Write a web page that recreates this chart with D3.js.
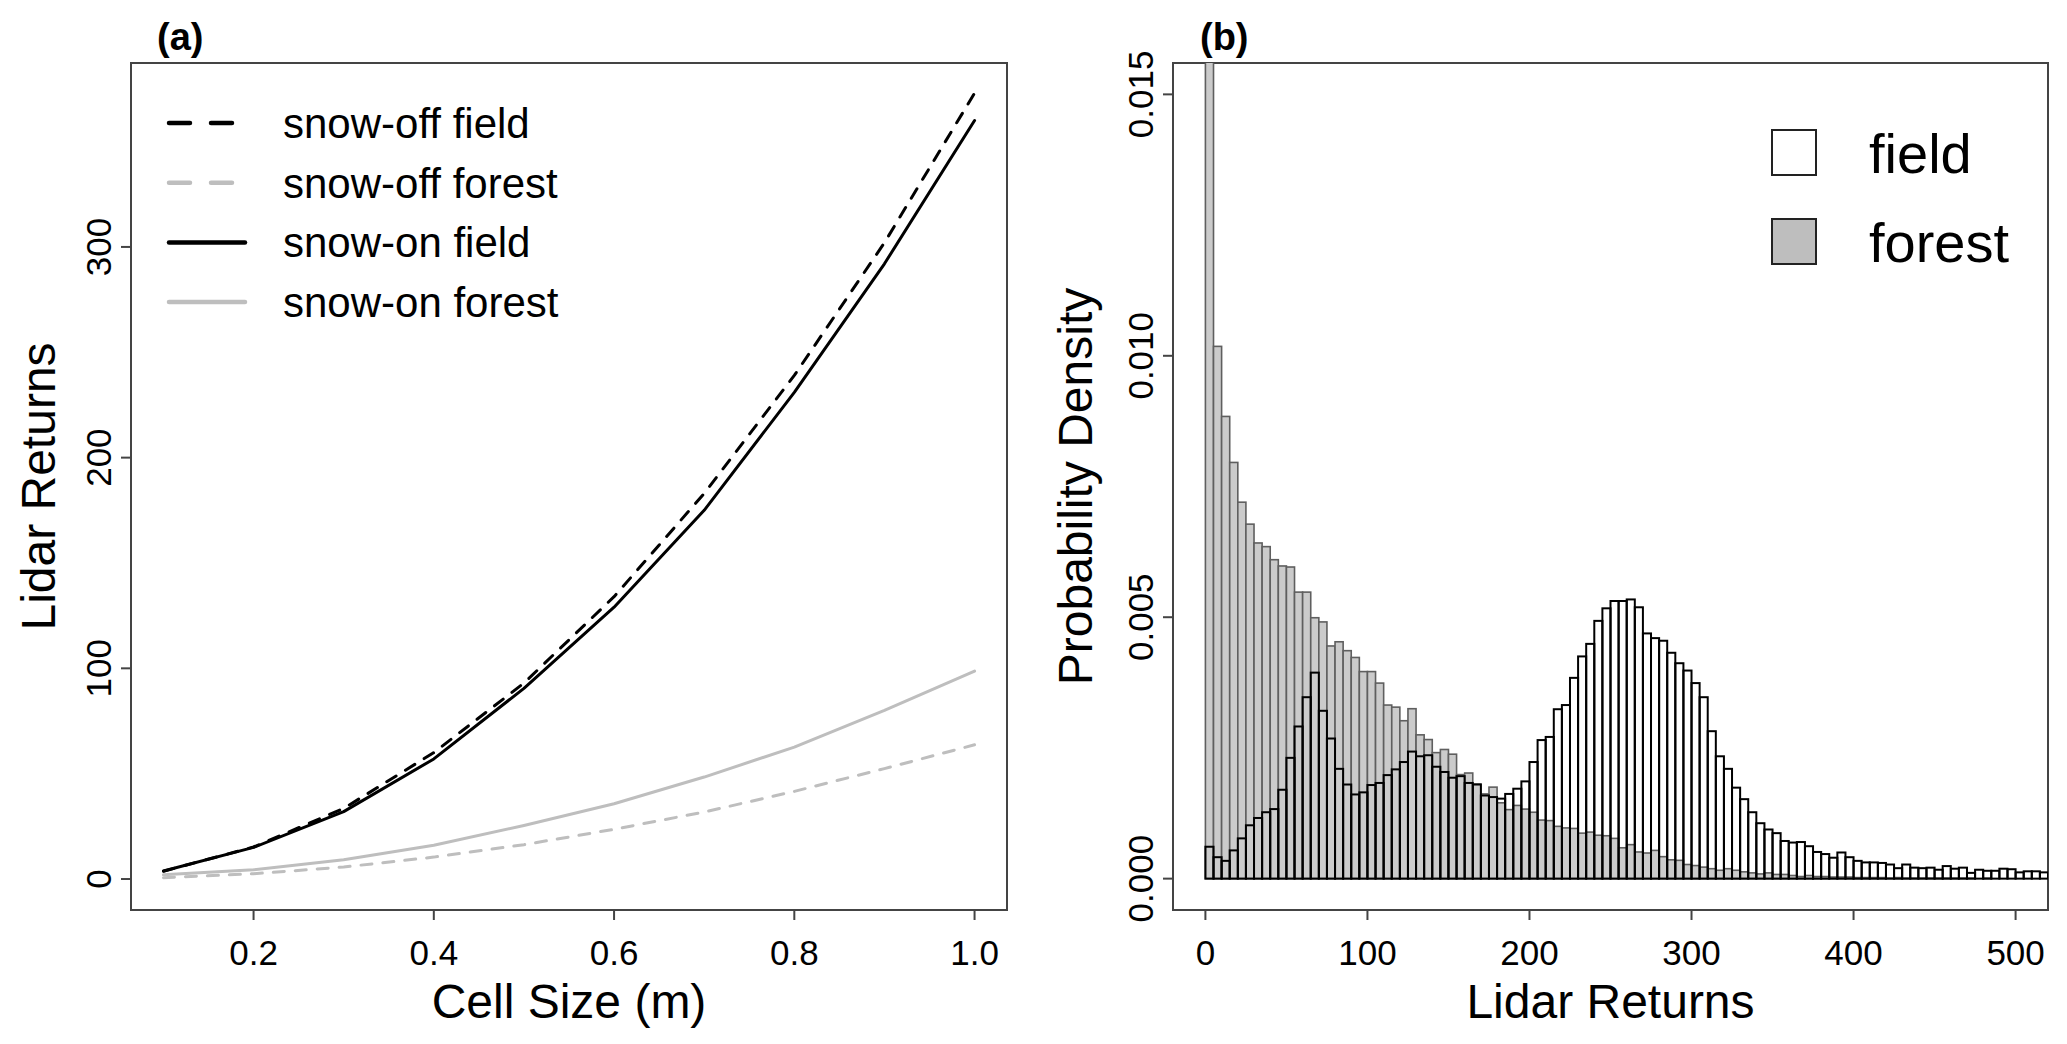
<!DOCTYPE html>
<html>
<head>
<meta charset="utf-8">
<script src="https://cdn.jsdelivr.net/npm/d3@7"></script>
<style>
  body { margin: 0; background: #fff; }
  svg { display: block; font-family: "Liberation Sans", Arial, Helvetica, sans-serif; }
</style>
</head>
<body>
<svg id="chart" width="2067" height="1044"></svg>
<script>
// panel (a): lidar returns by cell size
const cellSize = [0.1, 0.2, 0.3, 0.4, 0.5, 0.6, 0.7, 0.8, 0.9, 1.0];
const snowOffField = [3.7, 15.2, 33.5, 60, 93, 134, 183, 239, 302, 373];
const snowOffForest = [0.6, 2.5, 5.7, 10.4, 16.3, 23.6, 31.8, 41.6, 52.4, 63.7];
const snowOnField = [3.8, 15, 32, 57, 90.5, 129, 175, 231, 292, 360];
const snowOnForest = [2.0, 4.4, 9.2, 16, 25.4, 35.7, 48.4, 62.6, 80, 98.7];

// panel (b): histogram, bin starts (width 5) and densities
const binStarts = [
  0, 5, 10, 15, 20, 25, 30, 35, 40, 45, 50, 55, 60, 65, 70, 75, 80, 85, 90, 95,
  100, 105, 110, 115, 120, 125, 130, 135, 140, 145, 150, 155, 160, 165, 170, 175, 180, 185, 190, 195,
  200, 205, 210, 215, 220, 225, 230, 235, 240, 245, 250, 255, 260, 265, 270, 275, 280, 285, 290, 295,
  300, 305, 310, 315, 320, 325, 330, 335, 340, 345, 350, 355, 360, 365, 370, 375, 380, 385, 390, 395,
  400, 405, 410, 415, 420, 425, 430, 435, 440, 445, 450, 455, 460, 465, 470, 475, 480, 485, 490, 495,
  500, 505, 510, 515
];
const binWidth = 5;
const forestDensity = [
  0.0185, 0.01018, 0.00884, 0.00796, 0.00720, 0.00678, 0.00642, 0.00635, 0.00610, 0.00598,
  0.00596, 0.00548, 0.00548, 0.00499, 0.00491, 0.00445, 0.00453, 0.00436, 0.00423, 0.00396,
  0.00396, 0.00374, 0.00332, 0.00328, 0.00302, 0.00325, 0.00275, 0.00266, 0.00241, 0.00247,
  0.00238, 0.00199, 0.00202, 0.00181, 0.00162, 0.00175, 0.00145, 0.00132, 0.00140, 0.00133,
  0.00127, 0.00112, 0.00111, 0.00100, 0.00097, 0.00096, 0.00087, 0.00089, 0.00083, 0.00082,
  0.00077, 0.00059, 0.00065, 0.00051, 0.00049, 0.00054, 0.00042, 0.00036, 0.00035, 0.00027,
  0.00025, 0.00022, 0.00019, 0.00016, 0.00019, 0.00016, 0.00013, 0.00011, 0.00009, 0.00011,
  0.00008, 0.00008, 0.00006, 0.00004, 0.00006, 0.00004, 0.00004, 0.00003, 0.00003, 0.00003,
  0.00002, 0.00002, 0.00002, 0.00002, 0.00001, 0.00002, 0.00001, 0.00001, 0.00001, 0.00001,
  0.00001, 0.00001, 0.00001, 0.00001, 0.00001, 0, 0.00001, 0, 0, 0,
  0, 0, 0, 0
];
const fieldDensity = [
  0.00061, 0.00041, 0.00034, 0.00054, 0.00077, 0.00102, 0.00116, 0.00127, 0.00133, 0.00170,
  0.00231, 0.00291, 0.00347, 0.00394, 0.00321, 0.00268, 0.00210, 0.00180, 0.00161, 0.00165,
  0.00179, 0.00183, 0.00198, 0.00209, 0.00223, 0.00243, 0.00234, 0.00236, 0.00214, 0.00204,
  0.00193, 0.00196, 0.00183, 0.00180, 0.00159, 0.00156, 0.00153, 0.00162, 0.00172, 0.00186,
  0.00223, 0.00265, 0.00271, 0.00324, 0.00332, 0.00384, 0.00425, 0.00449, 0.00493, 0.00517,
  0.00531, 0.00531, 0.00534, 0.00519, 0.00469, 0.00460, 0.00455, 0.00432, 0.00412, 0.00398,
  0.00374, 0.00347, 0.00282, 0.00234, 0.00210, 0.00174, 0.00152, 0.00127, 0.00106, 0.00094,
  0.00087, 0.00072, 0.00069, 0.00070, 0.00062, 0.00051, 0.00047, 0.00040, 0.00050, 0.00041,
  0.00034, 0.00031, 0.00031, 0.00030, 0.00027, 0.00020, 0.00027, 0.00021, 0.00020, 0.00021,
  0.00017, 0.00024, 0.00019, 0.00021, 0.00011, 0.00017, 0.00015, 0.00015, 0.00019, 0.00018,
  0.00012, 0.00014, 0.00014, 0.00012
];

const cellTicks = [0.2, 0.4, 0.6, 0.8, 1.0];
const returnTicks = [0, 100, 200, 300];
const histXTicks = [0, 100, 200, 300, 400, 500];
const densityTicks = [0, 0.005, 0.010, 0.015];

const lineSeries = [
  { name: 'snow-off forest', values: snowOffForest, color: '#bebebe', dashed: true },
  { name: 'snow-on forest', values: snowOnForest, color: '#bebebe', dashed: false },
  { name: 'snow-off field', values: snowOffField, color: '#000', dashed: true },
  { name: 'snow-on field', values: snowOnField, color: '#000', dashed: false }
];
const legendOrder = ['snow-off field', 'snow-off forest', 'snow-on field', 'snow-on forest'];

const svg = d3.select('#chart');
const plotTop = 63, plotBottom = 910;
const tickFont = 35, titleFont = 48;

function frame(x0, x1, xScale, yScale, xTicks, yTicks, yFmt, xFmt) {
  const g = svg.append('g');
  g.append('rect')
    .attr('x', x0).attr('y', plotTop)
    .attr('width', x1 - x0).attr('height', plotBottom - plotTop)
    .attr('fill', 'none').attr('stroke', '#444').attr('stroke-width', 2);

  xTicks.forEach(t => {
    const x = xScale(t);
    g.append('line').attr('x1', x).attr('x2', x).attr('y1', plotBottom).attr('y2', plotBottom + 10)
      .attr('stroke', '#444').attr('stroke-width', 2);
    g.append('text').attr('x', x).attr('y', 965)
      .attr('text-anchor', 'middle').attr('font-size', tickFont).text(xFmt(t));
  });
  yTicks.forEach(t => {
    const y = yScale(t);
    g.append('line').attr('x1', x0 - 10).attr('x2', x0).attr('y1', y).attr('y2', y)
      .attr('stroke', '#444').attr('stroke-width', 2);
    g.append('text')
      .attr('transform', `translate(${x0 - 20},${y}) rotate(-90)`)
      .attr('text-anchor', 'middle').attr('font-size', tickFont).text(yFmt(t));
  });
  return g;
}

// ---------- panel (a) ----------
const xA = d3.scaleLinear().domain([0.064, 1.036]).range([131, 1007]);
const yA = d3.scaleLinear().domain([-14.7, 387.3]).range([plotBottom, plotTop]);

frame(131, 1007, xA, yA, cellTicks, returnTicks, d3.format('d'), d3.format('.1f'));

const line = d3.line().x((d, i) => xA(cellSize[i])).y(d => yA(d));

lineSeries.forEach(s => {
  svg.append('path')
    .attr('d', line(s.values))
    .attr('fill', 'none')
    .attr('stroke', s.color)
    .attr('stroke-width', 3)
    .attr('stroke-linecap', 'round')
    .attr('stroke-linejoin', 'round')
    .attr('stroke-dasharray', s.dashed ? '11,11' : null);
});

const legA = svg.append('g');
legendOrder.forEach((name, i) => {
  const s = lineSeries.find(d => d.name === name);
  const y = 123 + i * 59.7;
  legA.append('line')
    .attr('x1', 169).attr('x2', s.dashed ? 235 : 245).attr('y1', y).attr('y2', y)
    .attr('stroke', s.color).attr('stroke-width', 4.5)
    .attr('stroke-linecap', 'round')
    .attr('stroke-dasharray', s.dashed ? '21,21' : null);
  legA.append('text').attr('x', 283).attr('y', y + 15)
    .attr('font-size', 42).text(name);
});

svg.append('text').attr('x', 157).attr('y', 50)
  .attr('font-size', 38).attr('font-weight', 'bold').text('(a)');
svg.append('text').attr('x', (131 + 1007) / 2).attr('y', 1018)
  .attr('text-anchor', 'middle').attr('font-size', titleFont).text('Cell Size (m)');
svg.append('text')
  .attr('transform', `translate(55,${(plotTop + plotBottom) / 2}) rotate(-90)`)
  .attr('text-anchor', 'middle').attr('font-size', titleFont).text('Lidar Returns');

// ---------- panel (b) ----------
const xB = d3.scaleLinear().domain([-20, 520]).range([1173, 2048]);
const yB = d3.scaleLinear().domain([-0.0006, 0.0156]).range([plotBottom, plotTop]);

svg.append('clipPath').attr('id', 'clipB')
  .append('rect').attr('x', 1173).attr('y', plotTop).attr('width', 2048 - 1173).attr('height', plotBottom - plotTop);

frame(1173, 2048, xB, yB, histXTicks, densityTicks, d3.format('.3f'), d3.format('d'));

const bars = svg.append('g').attr('clip-path', 'url(#clipB)');

bars.selectAll('rect.forest')
  .data(forestDensity)
  .join('rect')
  .attr('class', 'forest')
  .attr('x', (d, i) => xB(binStarts[i]))
  .attr('width', (d, i) => xB(binStarts[i] + binWidth) - xB(binStarts[i]))
  .attr('y', d => yB(d))
  .attr('height', d => yB(0) - yB(d))
  .attr('fill', '#cbcbcb')
  .attr('stroke', '#5f5f5f')
  .attr('stroke-width', 1.6);

bars.selectAll('rect.field')
  .data(fieldDensity)
  .join('rect')
  .attr('class', 'field')
  .attr('x', (d, i) => xB(binStarts[i]))
  .attr('width', (d, i) => xB(binStarts[i] + binWidth) - xB(binStarts[i]))
  .attr('y', d => yB(d))
  .attr('height', d => yB(0) - yB(d))
  .attr('fill', 'none')
  .attr('stroke', '#000')
  .attr('stroke-width', 2);

const legB = svg.append('g');
[['field', '#ffffff', 130], ['forest', '#bebebe', 219]].forEach(([label, fill, y]) => {
  legB.append('rect').attr('x', 1772).attr('y', y).attr('width', 44).attr('height', 45)
    .attr('fill', fill).attr('stroke', '#222').attr('stroke-width', 2);
  legB.append('text').attr('x', 1869).attr('y', y + 43)
    .attr('font-size', 56).text(label);
});

svg.append('text').attr('x', 1200).attr('y', 50)
  .attr('font-size', 38).attr('font-weight', 'bold').text('(b)');
svg.append('text').attr('x', (1173 + 2048) / 2).attr('y', 1018)
  .attr('text-anchor', 'middle').attr('font-size', titleFont).text('Lidar Returns');
svg.append('text')
  .attr('transform', `translate(1092,${(plotTop + plotBottom) / 2}) rotate(-90)`)
  .attr('text-anchor', 'middle').attr('font-size', titleFont).text('Probability Density');
</script>
</body>
</html>
